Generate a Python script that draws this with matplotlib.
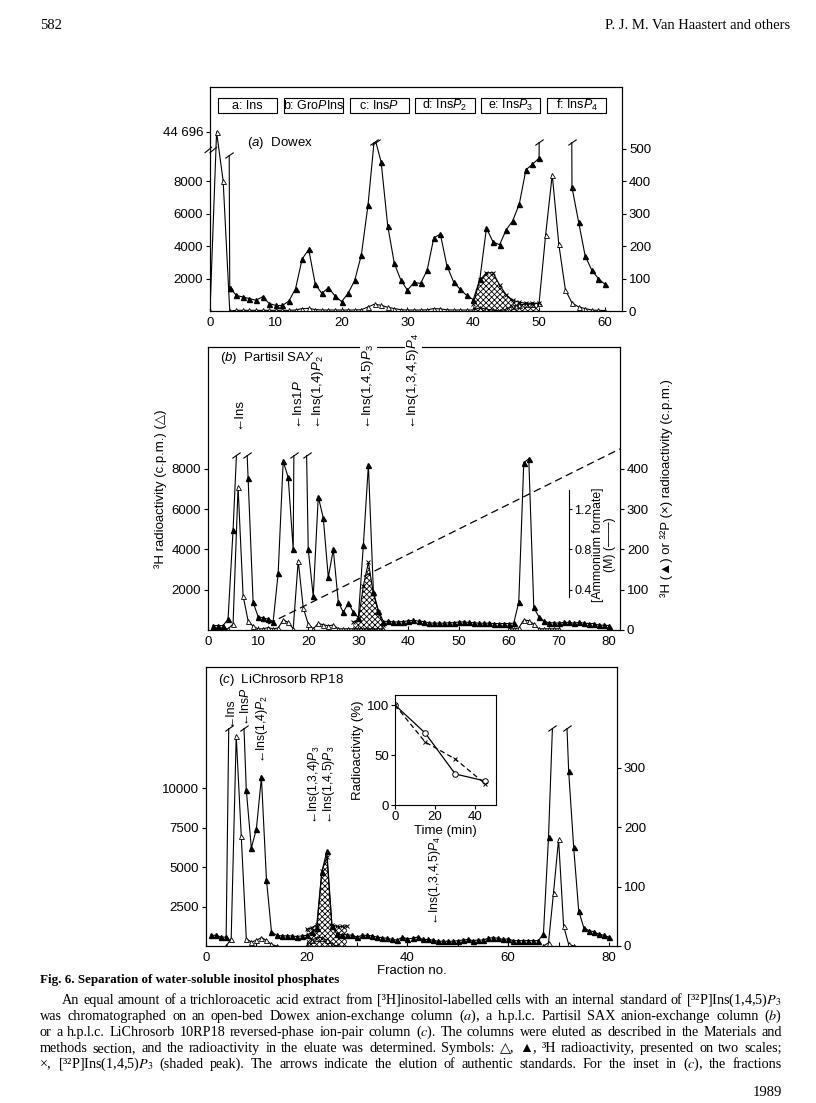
import numpy as np
import matplotlib
matplotlib.use('Agg')
import matplotlib.pyplot as plt
from matplotlib.path import Path
from matplotlib.patches import Rectangle
from matplotlib.transforms import blended_transform_factory

plt.rcParams['font.family'] = ['Liberation Sans', 'DejaVu Sans']
plt.rcParams['mathtext.fontset'] = 'custom'
plt.rcParams['mathtext.rm'] = 'Liberation Sans'
plt.rcParams['mathtext.it'] = 'Liberation Sans:italic'
plt.rcParams['mathtext.bf'] = 'Liberation Sans:bold'
plt.rcParams['hatch.linewidth'] = 0.6
plt.rcParams['font.size'] = 9

# ---------------- data ----------------
# (a) Dowex, fractions 0..60
frac_a = np.arange(0, 61)
open_a = np.array([0, 44696, 8000, 0, 40, 40, 40, 40, 40, 40, 40, 40, 40, 60, 150,
                   160, 90, 60, 60, 60, 60, 60, 60, 80, 250, 420, 350, 230, 150, 80,
                   60, 60, 60, 70, 150, 130, 70, 60, 60, 60, 60, 200, 110, 50, 10,
                   100, 280, 380, 420, 430, 480, 4700, 8400, 4100, 1300, 500, 250, 150, 60, 40,
                   30], float)
# filled triangles, right scale; values above the cap are off scale
filled_a = np.array([np.nan, 5000, 5000, 72, 48, 43, 38, 33, 44, 23, 17, 17, 31, 69, 160,
                     190, 82, 54, 72, 46, 29, 55, 95, 173, 325, 536, 459, 263, 147, 95,
                     64, 88, 85, 126, 225, 237, 139, 90, 67, 48, 35, 98, 255, 213, 204,
                     250, 278, 330, 435, 452, 471, 5000, 5000, 5000, 5000, 381, 275, 170, 126, 100,
                     82], float)
frac_cross_a = np.arange(40, 51)
cross_a = np.array([23, 95, 118, 118, 80, 50, 33, 27, 24, 24, 24], float)
boxes_a = [(1, 10, 'a: Ins'), (11, 20, 'b: Gro$\\mathit{P}$Ins'), (21, 30, 'c: Ins$\\mathit{P}$'),
           (31, 40, 'd: Ins$\\mathit{P}_2$'), (41, 50, 'e: Ins$\\mathit{P}_3$'), (51, 60, 'f: Ins$\\mathit{P}_4$')]

# (b) Partisil SAX, fractions 1..80
frac_b = np.arange(1, 81)
filled_b = np.array([11, 11, 11, 27, 248, 525, 690, 377, 69, 33, 30, 27, 21, 141, 419,
                     379, 200, 2000, 920, 200, 84, 331, 278, 131, 200, 69, 44, 67, 44, 31,
                     211, 410, 95, 48, 21, 22, 20, 20, 21, 23, 24, 22, 21, 18, 17,
                     17, 17, 18, 18, 20, 20, 19, 18, 17, 17, 17, 16, 16, 16, 16,
                     17, 69, 416, 425, 56, 33, 22, 18, 18, 17, 19, 19, 17, 19, 17,
                     16, 16, 12, 12, 11], float)
nan = np.nan
open_b = np.array([100, 100, 100, 50, 300, 7100, 1700, 460, 180, 60, 60, 120, 60, 100, 500,
                   380, 60, 3440, 1100, 300, 60, 330, 260, 210, 250, 60, 60, 60, 60, 60,
                   60, 60, 60, 60, 60] + [nan] * 24 +
                  [60, 60, 100, 500, 460, 300, 60, 60, 60, 60, 60] + [nan] * 10, float)
frac_cross_b = np.arange(29, 36)
cross_b = np.array([20, 25, 110, 168, 90, 45, 12], float)
formate_frac = [12, 82.2]
formate_M = [0.06, 1.8]
stds_b = [(6, 'Ins'), (18, 'Ins1$\\mathit{P}$'), (22, 'Ins(1,4)$\\mathit{P}_2$'),
          (32, 'Ins(1,4,5)$\\mathit{P}_3$'), (41, 'Ins(1,3,4,5)$\\mathit{P}_4$')]

# (c) LiChrosorb RP18, fractions 1..80
frac_c = np.arange(1, 81)
filled_c = np.array([18, 18, 15, 15, 700, 900, 490, 263, 165, 197, 284, 112, 24, 18, 17,
                     17, 17, 16, 17, 18, 23, 30, 125, 160, 33, 20, 19, 19, 18, 15,
                     18, 18, 17, 15, 14, 13, 11, 10, 15, 12, 13, 15, 11, 11, 10,
                     8, 8, 8, 8, 9, 10, 11, 9, 10, 10, 13, 14, 13, 11, 12,
                     9, 9, 9, 9, 9, 9, 21, 183, 420, 800, 515, 295, 166, 59, 31,
                     26, 24, 20, 18, 15], float)
open_c = np.array([nan, nan, nan, 0, 460, 13300, 6960, 460, 250, 360, 530, 360, 100, 0] +
                  [nan] * 5 + [0, 360, 530, 530, 360, 100, 0] + [nan] * 40 +
                  [0, 200, 3380, 6750, 1270, 100, 0] + [nan] * 7, float)
frac_cross_c = np.arange(20, 29)
cross_c = np.array([28, 31, 36, 126, 150, 36, 33, 33, 34], float)
stds_c = [(4.7, 371, 'Ins'), (7.9, 371, 'Ins$\\mathit{P}$'), (11.1, 309, 'Ins(1,4)$\\mathit{P}_2$'),
          (21.5, 205, 'Ins(1,3,4)$\\mathit{P}_3$'), (24.4, 205, 'Ins(1,4,5)$\\mathit{P}_3$'),
          (45.5, 35, 'Ins(1,3,4,5)$\\mathit{P}_4$')]

# inset (c)
inset_time = [0, 15, 30, 45]
inset_open = [100, 72, 31, 24]
inset_cross = [100, 63, 46, 21]

# ---------------- drawing ----------------
fig = plt.figure(figsize=(8.16, 11.03), dpi=100)


def px_axes(l, t, r, b):
    return fig.add_axes([l / 816, 1 - b / 1103, (r - l) / 816, (b - t) / 1103])


CAP = Path([(-1.0, -0.7), (1.0, 0.7)])


def style(ax):
    for s in ax.spines.values():
        s.set_linewidth(0.8)
    ax.tick_params(axis='x', direction='in', length=3, width=0.8, labelsize=9.5, pad=4)
    ax.tick_params(axis='y', direction='out', length=3, width=0.8, labelsize=9.5, pad=2)


def capped(axr, x, y, cap):
    x = np.asarray(x, float)
    y = np.asarray(y, float)
    line, = axr.plot(x, y, color='k', lw=0.8, marker='^', ms=3.6, mfc='k', mec='k', zorder=3)
    clip = Rectangle((x[0] - 1, -200), x[-1] - x[0] + 2, cap + 200, transform=axr.transData)
    line.set_clip_path(clip)
    for i in range(len(x) - 1):
        if np.isfinite(y[i]) and np.isfinite(y[i + 1]) and (y[i] - cap) * (y[i + 1] - cap) < 0:
            xc = x[i] + (cap - y[i]) / (y[i + 1] - y[i]) * (x[i + 1] - x[i])
            axr.plot([xc], [cap], marker=CAP, ms=6, mec='k', mew=0.8, ls='none')


def open_line(ax, x, y):
    ax.plot(x, y, color='k', lw=0.8, marker='^', ms=3.6, mfc='white', mec='k', mew=0.6, zorder=3)


def shaded(axr, x, y):
    axr.fill_between(x, 0, y, facecolor='none', edgecolor='k', hatch='xxxxxx', lw=0, zorder=2)
    axr.plot(x, y, color='k', lw=0.8, marker='x', ms=3, mew=0.7, zorder=3)


# ----- (a) Dowex -----
ax = px_axes(210, 87, 622, 311)
axr = ax.twinx()
style(ax)
style(axr)
ax.set_xlim(0, 62.6)
ax.set_ylim(0, 13800)
axr.set_ylim(0, 690)
brk_pos = 11030
open_line(ax, frac_a, np.where(open_a > 10000, brk_pos, open_a))
shaded(axr, frac_cross_a, cross_a)
capped(axr, frac_a[:4], filled_a[:4], 479)
capped(axr, frac_a[3:], filled_a[3:], 520)
ax.set_xticks(np.arange(0, 61, 10))
ax.set_yticks([2000, 4000, 6000, 8000, brk_pos])
ax.set_yticklabels(['2000', '4000', '6000', '8000', '44 696'])
axr.set_yticks(np.arange(0, 501, 100))
tr = blended_transform_factory(ax.transData, ax.transAxes)
for lo, hi, lab in boxes_a:
    ax.add_patch(Rectangle((lo + 0.2, 0.884), hi - lo, 0.067, transform=tr,
                           fill=False, lw=0.8, zorder=4))
    ax.text((lo + hi) / 2 + 0.2, 0.917, lab, transform=tr, ha='center', va='center', fontsize=9)
ax.text(0.09, 0.75, '($\\mathit{a}$)  Dowex', transform=ax.transAxes, fontsize=9.5, va='center')
ybk = 9920 / 13800
for dx in (0.0, 0.012):
    ax.plot([-0.012 + dx, 0.004 + dx], [ybk - 0.012, ybk + 0.012], transform=ax.transAxes,
            color='k', lw=0.8, clip_on=False)

# ----- (b) Partisil SAX -----
ax = px_axes(208, 347, 620, 630)
axr = ax.twinx()
style(ax)
style(axr)
ax.set_xlim(0, 82.2)
ax.set_ylim(0, 14060)
axr.set_ylim(0, 703)
open_line(ax, frac_b, open_b)
shaded(axr, frac_cross_b, cross_b)
capped(axr, frac_b, filled_b, 435)
axr.plot(formate_frac, np.array(formate_M) * 250, color='k', lw=0.9, dashes=(6, 3.5), zorder=2)
ax.set_xticks(np.arange(0, 81, 10))
ax.set_yticks([2000, 4000, 6000, 8000])
axr.set_yticks(np.arange(0, 401, 100))
ax.set_ylabel('³H radioactivity (c.p.m.) (△)', fontsize=9.5, labelpad=3)
axr.set_ylabel('³H (▲) or ³²P (×) radioactivity (c.p.m.)', fontsize=9.5, labelpad=8)
ax.text(0.03, 0.96, '($\\mathit{b}$)  Partisil SAX', transform=ax.transAxes, fontsize=9.5, va='center')
for f, lab in stds_b:
    axr.text(f, 500, '←' + lab, rotation=90, ha='center', va='bottom', fontsize=9.5,
             clip_on=False, zorder=5,
             bbox=dict(facecolor='white', edgecolor='none', pad=0.3))
sec = axr.secondary_yaxis(0.876, functions=(lambda r: r / 250, lambda m: m * 250))
sec.set_yticks([0.4, 0.8, 1.2])
sec.set_yticklabels(['0.4', '0.8', '1.2'])
sec.tick_params(direction='out', length=2.5, width=0.8, labelsize=9, pad=1.5)
sec.spines['right'].set_linewidth(0.8)
sec.spines['right'].set_bounds(0.33, 1.39)
ax.text(0.962, 0.30, '[Ammonium formate]\n(M) (——)', transform=ax.transAxes,
        rotation=90, ha='center', va='center', fontsize=8.8, linespacing=1.0)

# ----- (c) LiChrosorb RP18 -----
ax = px_axes(206, 667, 617, 946)
axr = ax.twinx()
style(ax)
style(axr)
ax.set_xlim(0, 81.6)
ax.set_ylim(0, 17660)
axr.set_ylim(0, 470)
open_line(ax, frac_c, open_c)
shaded(axr, frac_cross_c, cross_c)
capped(axr, frac_c, filled_c, 368)
ax.set_xticks(np.arange(0, 81, 20))
ax.set_xticks(np.arange(10, 81, 20), minor=True)
ax.tick_params(axis='x', which='minor', direction='in', length=3, width=0.8)
ax.set_yticks([2500, 5000, 7500, 10000])
axr.set_yticks([0, 100, 200, 300])
ax.set_xlabel('Fraction no.', fontsize=9.5, labelpad=1)
ax.text(0.03, 0.955, '($\\mathit{c}$)  LiChrosorb RP18', transform=ax.transAxes, fontsize=9.5, va='center')
for f, yb, lab in stds_c:
    axr.text(f, yb, '←' + lab, rotation=90, ha='center', va='bottom', fontsize=8.8, zorder=5)

# inset
axi = px_axes(395, 695, 496, 805)
axi.set_zorder(10)
for s in axi.spines.values():
    s.set_linewidth(0.8)
axi.plot(inset_time, inset_open, color='k', lw=0.9, marker='o', ms=4, mfc='white', mec='k', mew=0.7)
axi.plot(inset_time, inset_cross, color='k', lw=0.9, ls=(0, (4, 2.5)), marker='x', ms=3.5, mew=0.7)
axi.set_xlim(0, 50.3)
axi.set_ylim(0, 110)
axi.set_xticks([0, 20, 40])
axi.set_yticks([0, 50, 100])
axi.tick_params(direction='out', length=3, width=0.8, labelsize=9.5, pad=1.5)
axi.set_xlabel('Time (min)', fontsize=9.5, labelpad=1)
axi.set_ylabel('Radioactivity (%)', fontsize=9.5, labelpad=2)

# ---------------- page text ----------------
serif = ['Liberation Serif', 'DejaVu Serif', 'DejaVu Sans']
fig.text(40 / 816, 1 - 29 / 1103, '582', family=serif, fontsize=10.5)
fig.text(790 / 816, 1 - 29 / 1103, 'P. J. M. Van Haastert and others', family=serif,
         fontsize=10.5, ha='right')
fig.text(40 / 816, 1 - 983 / 1103, 'Fig. 6. Separation of water-soluble inositol phosphates',
         family=serif, fontsize=9.4, weight='bold')
fig.text(782 / 816, 1 - 1096 / 1103, '1989', family=serif, fontsize=10.5, ha='right')

caption = [
    (62, 'An equal amount of a trichloroacetic acid extract from [³H]inositol-labelled cells '
         'with an internal standard of [³²P]Ins(1,4,5)$\\mathit{P}_3$'),
    (40, 'was chromatographed on an open-bed Dowex anion-exchange column ($\\mathit{a}$), '
         'a h.p.l.c. Partisil SAX anion-exchange column ($\\mathit{b}$)'),
    (40, 'or a h.p.l.c. LiChrosorb 10RP18 reversed-phase ion-pair column ($\\mathit{c}$). '
         'The columns were eluted as described in the Materials and'),
    (40, 'methods section, and the radioactivity in the eluate was determined. Symbols: '
         '△, ▲, ³H radioactivity, presented on two scales;'),
    (40, '×, [³²P]Ins(1,4,5)$\\mathit{P}_3$ (shaded peak). The arrows indicate the elution '
         'of authentic standards. For the inset in ($\\mathit{c}$), the fractions'),
]
renderer = fig.canvas.get_renderer()
W = fig.bbox.width
for k, (x0, line) in enumerate(caption):
    yb = 1 - (1004 + 16 * k) / 1103
    words = line.split(' ')
    texts = [fig.text(0, yb, w, family=serif, fontsize=10.2, va='baseline',
                      math_fontfamily='stix') for w in words]
    widths = [t.get_window_extent(renderer).width for t in texts]
    gap = ((782 - x0) - sum(widths)) / (len(words) - 1)
    x = x0
    for t, w in zip(texts, widths):
        t.set_x(x / W)
        x += w + gap

fig.savefig('out.png', dpi=100)
